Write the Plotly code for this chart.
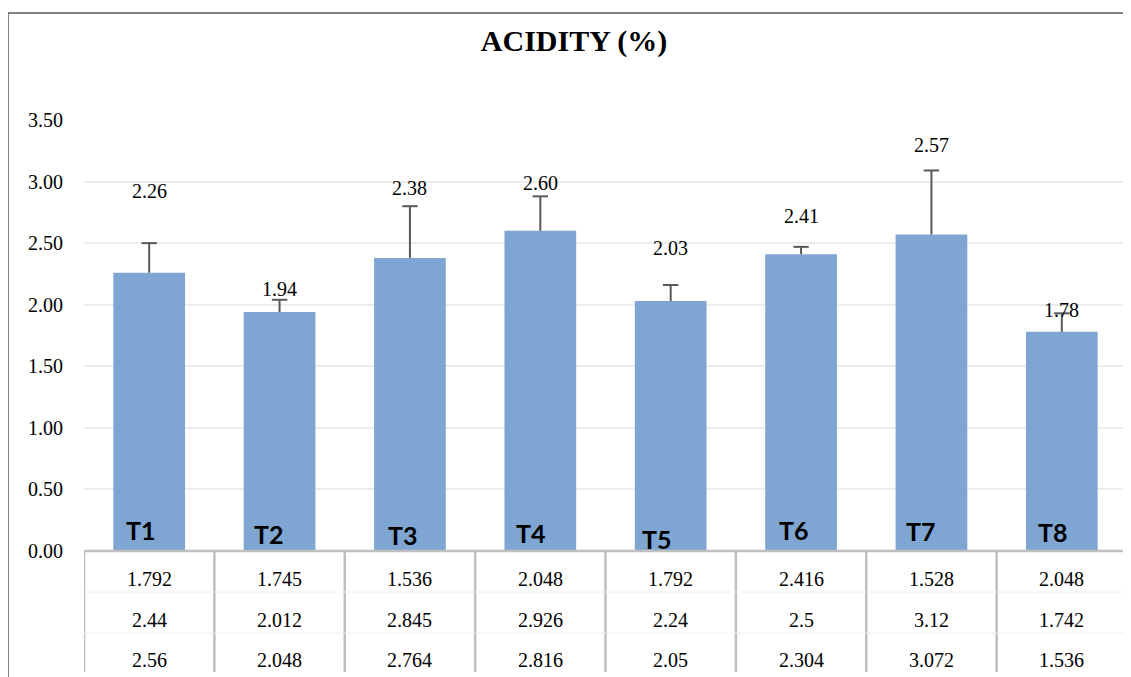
import plotly.graph_objects as go

categories = ["T1", "T2", "T3", "T4", "T5", "T6", "T7", "T8"]
means = [2.26, 1.94, 2.38, 2.60, 2.03, 2.41, 2.57, 1.78]
errors = [0.24, 0.10, 0.42, 0.28, 0.13, 0.06, 0.52, 0.15]
rep1 = ["1.792", "1.745", "1.536", "2.048", "1.792", "2.416", "1.528", "2.048"]
rep2 = ["2.44", "2.012", "2.845", "2.926", "2.24", "2.5", "3.12", "1.742"]
rep3 = ["2.56", "2.048", "2.764", "2.816", "2.05", "2.304", "3.072", "1.536"]
mean_labels = ["2.26", "1.94", "2.38", "2.60", "2.03", "2.41", "2.57", "1.78"]
y_ticks = [0, 0.5, 1.0, 1.5, 2.0, 2.5, 3.0, 3.5]

# styling / placement (pixels)
label_yshift = [82, 23, 70, 48, 53, 38, 90, 22]
cat_xshift = [-8, -11, -7, -9, -14, -7, -10, -9]
cat_yshift = [21, 17, 16, 18, 12, 21, 20, 19]

OFF = 8  # page body margin
W, H = 1131 - OFF, 677 - OFF
L, R, T, B = 84 - OFF, 4, 120 - OFF, 126
plot_h = 551 - 120
plot_w = (1131 - R) - 84
AXIS_Y = 551

serif = "Liberation Serif"
xs = list(range(len(categories)))
tips = [m + e for m, e in zip(means, errors)]

fig = go.Figure()
fig.add_trace(go.Bar(
    x=xs, y=means, width=0.55,
    marker=dict(color="#7fa6d2", line=dict(width=0)),
    hoverinfo="skip",
))
# plus-only error bars: stem from the tip down to the bar top, cap at the tip
fig.add_trace(go.Scatter(
    x=xs, y=tips, mode="markers",
    marker=dict(symbol="line-ew", size=11, color="#595959", line=dict(color="#595959", width=2)),
    error_y=dict(type="data", symmetric=False, array=[0]*len(errors), arrayminus=errors,
                 color="#595959", thickness=2, width=0),
    hoverinfo="skip",
))

ann = []
for i, c in enumerate(categories):
    ann.append(dict(x=i, y=means[i], xref="x", yref="y", text=mean_labels[i], showarrow=False,
                    yanchor="middle", yshift=label_yshift[i],
                    font=dict(family=serif, size=20, color="#000")))
    ann.append(dict(x=i, y=0, xref="x", yref="y", text="<b>%s</b>" % c, showarrow=False,
                    yanchor="middle", yshift=cat_yshift[i], xshift=cat_xshift[i],
                    font=dict(family="Lato", size=25, color="#000")))
    for rowvals, py in ((rep1, 579), (rep2, 620), (rep3, 660)):
        ann.append(dict(x=i, y=-(py - AXIS_Y) / plot_h, xref="x", yref="paper", text=rowvals[i],
                        showarrow=False, yanchor="middle",
                        font=dict(family=serif, size=20, color="#000")))

shapes = []
for k in range(len(categories) + 1):
    shapes.append(dict(type="line", xref="x", yref="paper", x0=k - 0.5, x1=k - 0.5,
                       y0=0, y1=-(672 - AXIS_Y) / plot_h, line=dict(color="#bfbfbf", width=2.5)))
for py in (592, 633):
    shapes.append(dict(type="line", xref="x", yref="paper", x0=-0.5, x1=7.5,
                       y0=-(py - AXIS_Y) / plot_h, y1=-(py - AXIS_Y) / plot_h,
                       line=dict(color="#f0f0f0", width=1)))
shapes.append(dict(type="line", xref="x", yref="paper", x0=-0.5, x1=7.5, y0=0, y1=0,
                   line=dict(color="#bfbfbf", width=2.5)))
# outer chart frame (top and left edges visible)
top_y = (AXIS_Y - 13) / plot_h
left_x = (8 - 84) / plot_w
shapes.append(dict(type="line", xref="paper", yref="paper", x0=left_x, x1=1.2,
                   y0=top_y, y1=top_y, line=dict(color="#595959", width=1.5)))
shapes.append(dict(type="line", xref="paper", yref="paper", x0=left_x, x1=left_x,
                   y0=top_y, y1=-0.5, line=dict(color="#595959", width=1.5)))

fig.update_layout(
    width=W, height=H,
    margin=dict(l=L, r=R, t=T, b=B, autoexpand=False),
    paper_bgcolor="white", plot_bgcolor="white",
    showlegend=False,
    title=dict(text="<b>ACIDITY (%)</b>", x=(574 - OFF) / W, xref="container", xanchor="center",
               y=1 - (40 - OFF) / H, yref="container", yanchor="middle",
               font=dict(family=serif, size=30, color="#000")),
    xaxis=dict(range=[-0.5, 7.5], showticklabels=False, showgrid=False, zeroline=False,
               showline=False, ticks=""),
    yaxis=dict(range=[0, 3.5], tickvals=y_ticks, ticktext=["%.2f" % v for v in y_ticks],
               showgrid=True, gridcolor="#ececec", gridwidth=1.5, zeroline=False,
               showline=False, ticks="", ticklabelstandoff=20,
               tickfont=dict(family=serif, size=20, color="#000")),
    annotations=ann, shapes=shapes,
)

fig.write_html("out.html")
